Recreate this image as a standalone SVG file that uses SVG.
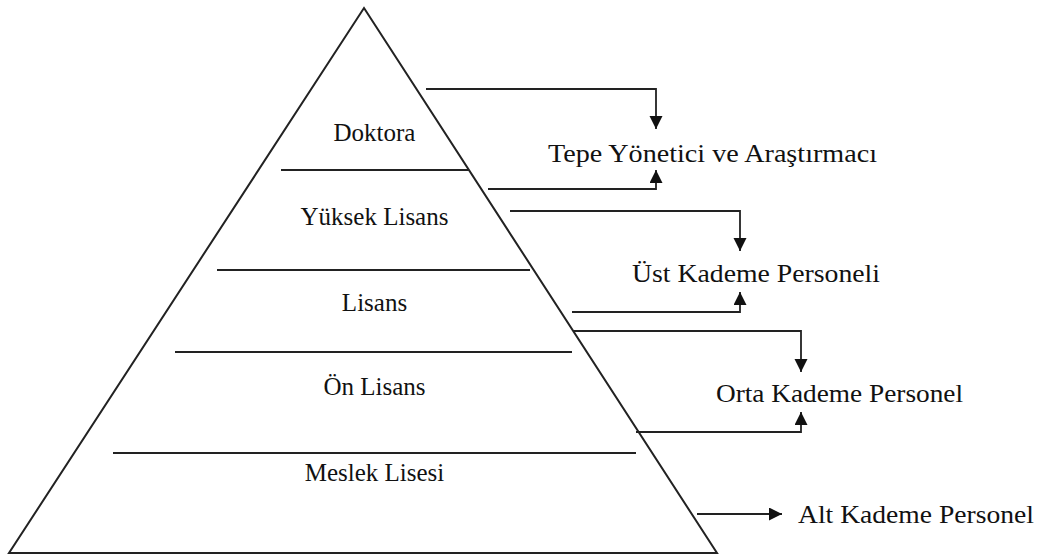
<svg xmlns="http://www.w3.org/2000/svg" width="1045" height="559" viewBox="0 0 1045 559">
<style>
.shape{fill:none;stroke:#222;stroke-width:2}
.conn{fill:none;stroke:#222;stroke-width:1.8}
.lbl{font-family:"Liberation Serif","Times New Roman",serif;font-size:25px;fill:#111}
.mid{text-anchor:middle}
</style>
<defs>
<marker id="ah" markerUnits="userSpaceOnUse" markerWidth="14" markerHeight="14" refX="13" refY="6.5" orient="auto">
<path d="M0,0 L13,6.5 L0,13 z" fill="#111"/>
</marker>
</defs>
<rect width="1045" height="559" fill="#fff"/>
<g id="pyramid">
<polygon class="shape" points="364,8 717,553 9,553"/>
<line class="shape" x1="281" y1="170" x2="469" y2="170"/>
<line class="shape" x1="217" y1="270" x2="530" y2="270"/>
<line class="shape" x1="175" y1="352" x2="572" y2="352"/>
<line class="shape" x1="113" y1="453" x2="636" y2="453"/>
</g>
<g id="level-doktora"><text class="lbl mid" x="374.5" y="141">Doktora</text></g>
<g id="level-yuksek-lisans"><text class="lbl mid" x="374.5" y="225">Yüksek Lisans</text></g>
<g id="level-lisans"><text class="lbl mid" x="374.5" y="311">Lisans</text></g>
<g id="level-on-lisans"><text class="lbl mid" x="374.5" y="395">Ön Lisans</text></g>
<g id="level-meslek-lisesi"><text class="lbl mid" x="374.5" y="481">Meslek Lisesi</text></g>
<g id="role-tepe"><text class="lbl" x="548" y="162" textLength="329" lengthAdjust="spacingAndGlyphs">Tepe Yönetici ve Araştırmacı</text></g>
<g id="role-ust"><text class="lbl" x="632" y="282" textLength="248" lengthAdjust="spacingAndGlyphs">Üst Kademe Personeli</text></g>
<g id="role-orta"><text class="lbl" x="716" y="402" textLength="247" lengthAdjust="spacingAndGlyphs">Orta Kademe Personel</text></g>
<g id="role-alt"><text class="lbl" x="798" y="523" textLength="236" lengthAdjust="spacingAndGlyphs">Alt Kademe Personel</text></g>
<g id="connectors">
<path class="conn" marker-end="url(#ah)" d="M426,89 H656 V129"/>
<path class="conn" marker-end="url(#ah)" d="M488,189 H656 V170"/>
<path class="conn" marker-end="url(#ah)" d="M510,211 H740 V251"/>
<path class="conn" marker-end="url(#ah)" d="M572,312 H740 V292"/>
<path class="conn" marker-end="url(#ah)" d="M573,331 H801 V372"/>
<path class="conn" marker-end="url(#ah)" d="M636,432 H801 V412"/>
<path class="conn" marker-end="url(#ah)" d="M697,514 H782"/>
</g>
</svg>
